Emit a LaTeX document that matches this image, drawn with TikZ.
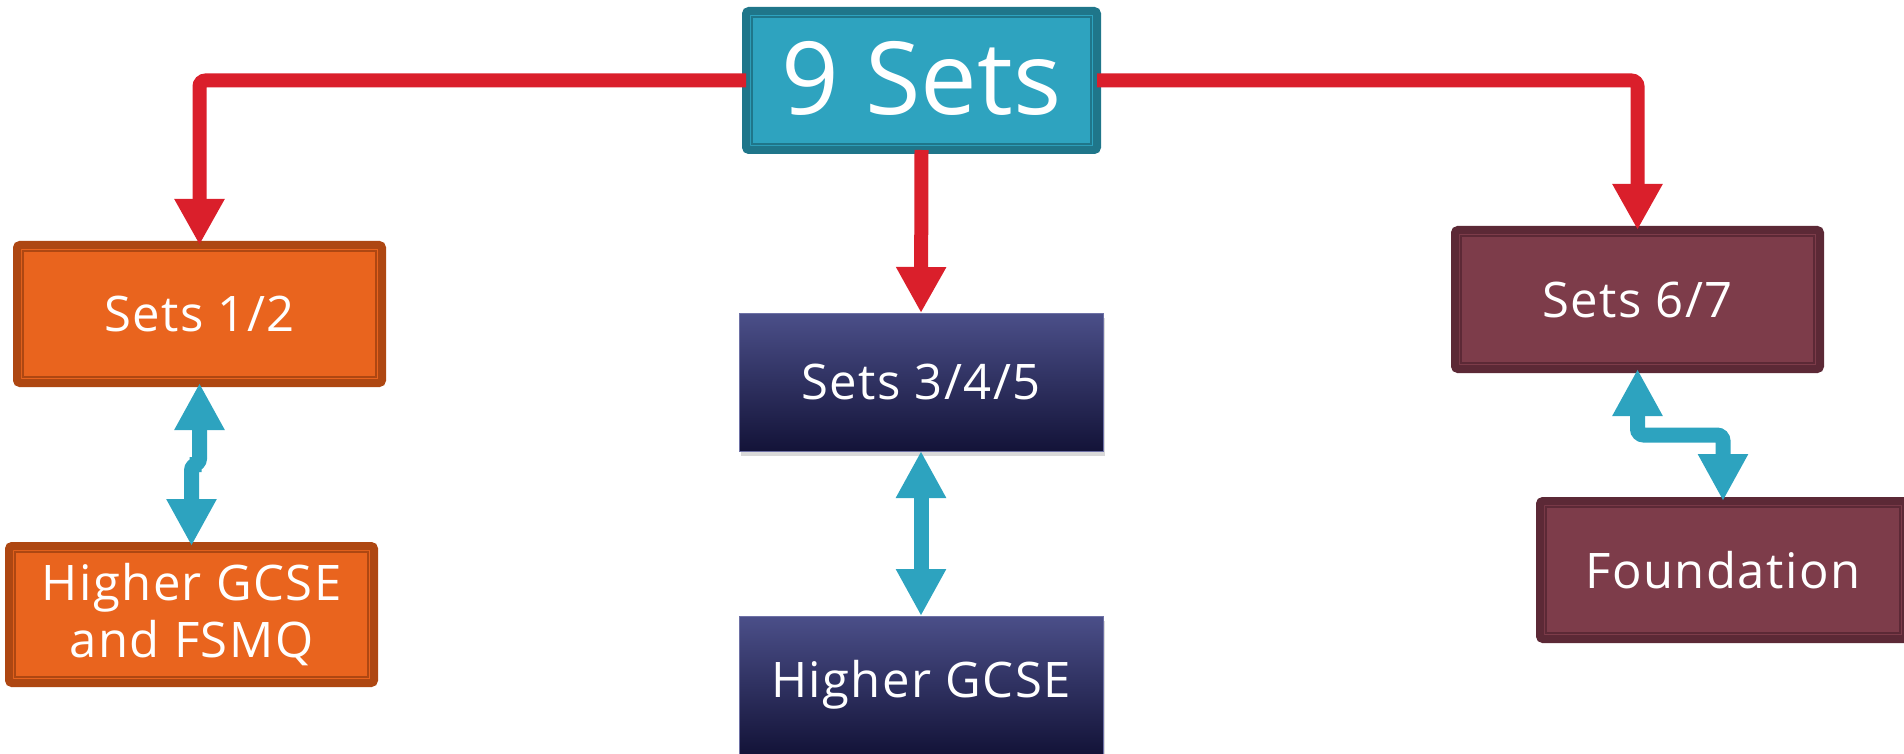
\documentclass[tikz,border=0pt]{standalone}
\usepackage{fontspec}
\setmainfont{Open Sans}
\newfontfamily\plainfont[LetterSpace=0]{Open Sans}
\newfontfamily\spaced[LetterSpace=3]{Open Sans}
\usetikzlibrary{arrows.meta,shadows,calc}
\definecolor{tealF}{HTML}{2EA3BF}
\definecolor{tealD}{HTML}{1F768A}
\definecolor{orgF}{HTML}{E9641E}
\definecolor{orgD}{HTML}{AE4712}
\definecolor{marF}{HTML}{7D3C4A}
\definecolor{marD}{HTML}{5C2936}
\definecolor{navyT}{HTML}{4B4F89}
\definecolor{navyB}{HTML}{131338}
\definecolor{navyL}{HTML}{6E71A6}
\definecolor{redC}{HTML}{DA1F2B}
\definecolor{cyanC}{HTML}{2DA3BF}
\begin{document}
\begin{tikzpicture}[x=1pt,y=-1pt,
  framed/.style 2 args={draw=#2, fill=#1, line width=8pt, rounded corners=3pt,
    inner sep=0pt, outer sep=0pt, text=white, align=center,
    minimum width=365pt, minimum height=138pt},
  navybox/.style={draw=navyL, line width=0.8pt, top color=navyT, bottom color=navyB,
    inner sep=0pt, outer sep=0pt, text=white, align=center,
    minimum width=364pt, minimum height=138pt,
    drop shadow={shadow xshift=2pt, shadow yshift=-5pt, opacity=0.3}},
  boxtext/.style={font=\spaced\fontsize{49}{57}\selectfont},
  redline/.style={draw=redC, line width=14pt, rounded corners=6pt,
    -{Triangle[width=47pt,length=46pt]}},
  cyanline/.style={draw=cyanC, line width=15pt, rounded corners=6pt,
    {Triangle[width=47pt,length=47pt]}-{Triangle[width=47pt,length=47pt]}},
  innerline/.style={draw=#1, line width=1.6pt}
]
\useasboundingbox (0,0) rectangle (1904,754);

% boxes
\node[framed={tealF}{tealD}, minimum width=351pt, minimum height=139pt,
      font=\plainfont\fontsize{101}{110}\selectfont] (top) at (921.5,80.5) {\raisebox{6pt}{9 Sets}};
\node[framed={orgF}{orgD}, boxtext] (s12) at (199.5,314) {Sets 1/2};
\node[framed={orgF}{orgD}, boxtext, minimum height=137pt] (hg1) at (191.5,614.5) {Higher GCSE\\and FSMQ};
\node[framed={marF}{marD}, boxtext, minimum height=139pt] (s67) at (1637.5,299.5) {Sets 6/7};
\node[framed={marF}{marD}, boxtext, minimum width=366pt] (found) at (1723,570) {Foundation};
\node[navybox, boxtext] (s345) at (921,382) {Sets 3/4/5};
\node[navybox, boxtext] (hg2) at (921,685) {Higher GCSE};

% inner frame lines
\foreach \n/\c in {top/tealD, s12/orgD, hg1/orgD, s67/marD, found/marD}{
  \draw[innerline=\c] ([shift={(6,6)}]\n.north west) rectangle ([shift={(-6,-6)}]\n.south east);
}

% red connectors
\draw[redline] (top.west) -| (s12.north);
\draw[redline] (top.south) -- (s345.north);
\draw[redline] (top.east) -| (s67.north);

% cyan connectors
\coordinate (m1) at ($(s12.south)!0.5!(hg1.north)$);
\draw[cyanline] (s12.south) |- (m1) -| (hg1.north);
\draw[cyanline] (s345.south) -- (hg2.north);
\coordinate (m2) at ($(s67.south)!0.5!(found.north)$);
\draw[cyanline] (s67.south) |- (m2) -| (found.north);
\end{tikzpicture}
\end{document}
